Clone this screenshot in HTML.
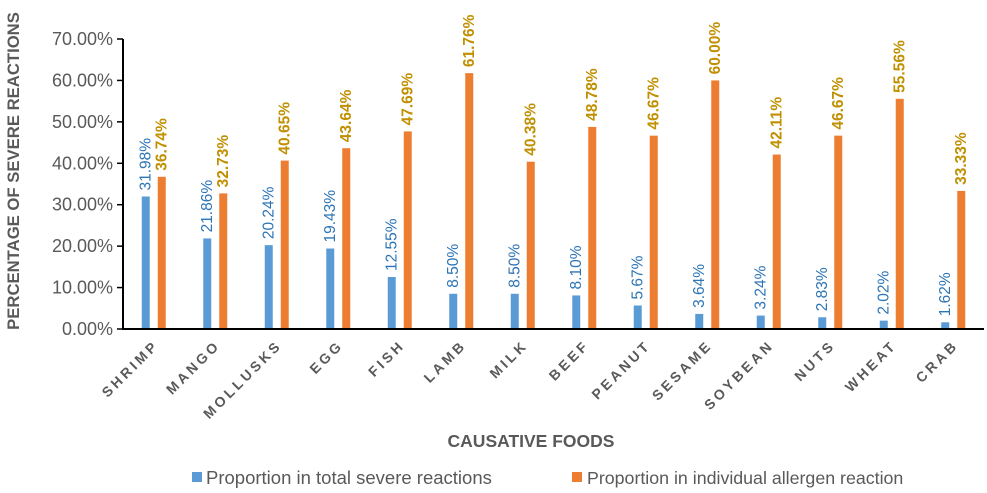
<!DOCTYPE html>
<html><head><meta charset="utf-8"><style>
body{margin:0;background:#fff;}
svg{display:block;font-family:"Liberation Sans",sans-serif;}
</style></head><body>
<svg id="chart" width="987" height="493" viewBox="0 0 987 493"></svg>
<script>
const categories=["SHRIMP","MANGO","MOLLUSKS","EGG","FISH","LAMB","MILK","BEEF","PEANUT","SESAME","SOYBEAN","NUTS","WHEAT","CRAB"];
const totalSevere=[31.98,21.86,20.24,19.43,12.55,8.50,8.50,8.10,5.67,3.64,3.24,2.83,2.02,1.62];
const individual=[36.74,32.73,40.65,43.64,47.69,61.76,40.38,48.78,46.67,60.00,42.11,46.67,55.56,33.33];
const yTicks=[0,10,20,30,40,50,60,70];
const NS="http://www.w3.org/2000/svg";
const svg=document.getElementById('chart');
const x0=123,x1=984,y0=329,yTop=39;
const gw=(x1-x0)/categories.length;
function yS(v){return y0-(v/70)*(y0-yTop);}
function xC(i){return x0+gw*(i+0.5);}
function mk(t,a,txt){const e=document.createElementNS(NS,t);for(const k in a)e.setAttribute(k,a[k]);if(txt!==undefined)e.textContent=txt;svg.appendChild(e);return e;}
yTicks.forEach(v=>{
 const t=mk('text',{x:x0-10,y:yS(v)+6,'text-anchor':'end','font-size':18,fill:'#595959'},v.toFixed(2)+'%');
 
 
 const l=mk('line',{x1:x0-6,x2:x0,y1:yS(v),y2:yS(v),stroke:'#000','stroke-width':1.5});
 
 
});
categories.forEach((c,i)=>{
 const cx=xC(i);
 const bx=cx-12, ox=cx+4;
 const b=mk('rect',{x:bx,y:yS(totalSevere[i]),width:8,height:y0-yS(totalSevere[i]),fill:'#5b9bd5'});
 
 
 const o=mk('rect',{x:ox,y:yS(individual[i]),width:8,height:y0-yS(individual[i]),fill:'#ed7d31'});
 
 
 let lx=bx+4+5, ly=yS(totalSevere[i])-6;
 const bl=mk('text',{x:lx,y:ly,transform:`rotate(-90 ${lx} ${ly})`,'font-size':15.5,fill:'#2e75b6'},totalSevere[i].toFixed(2)+'%');
 
 
 lx=ox+4+5; ly=yS(individual[i])-6;
 const ol=mk('text',{x:lx,y:ly,transform:`rotate(-90 ${lx} ${ly})`,'font-size':15.5,'font-weight':'bold',fill:'#c09000'},individual[i].toFixed(2)+'%');
 
 
 const cxl=cx+6, cyl=y0+17;
 const cl=mk('text',{x:cxl,y:cyl,transform:`rotate(-45 ${cxl} ${cyl})`,'text-anchor':'end','font-size':14,'font-weight':'bold','letter-spacing':'3.2',fill:'#595959'},c);
 
 
});
const ax=mk('path',{d:`M${x0} ${yTop} V${y0} H${x1}`,fill:'none',stroke:'#000','stroke-width':2});


const yt=mk('text',{x:19,y:171,transform:'rotate(-90 19 171)','text-anchor':'middle','font-size':16.7,'font-weight':'bold',fill:'#595959'},'PERCENTAGE OF SEVERE REACTIONS');


const xt=mk('text',{x:531,y:447,'text-anchor':'middle','font-size':17.5,'font-weight':'bold',fill:'#595959'},'CAUSATIVE FOODS');


const l1=mk('rect',{x:192,y:472,width:10,height:10,fill:'#5b9bd5'});


const lt1=mk('text',{x:206,y:484,'font-size':18.5,fill:'#595959'},'Proportion in total severe reactions');


const l2=mk('rect',{x:572,y:472,width:10,height:10,fill:'#ed7d31'});


const lt2=mk('text',{x:587,y:484,'font-size':17.8,fill:'#595959'},'Proportion in individual allergen reaction');


</script>
</body></html>
